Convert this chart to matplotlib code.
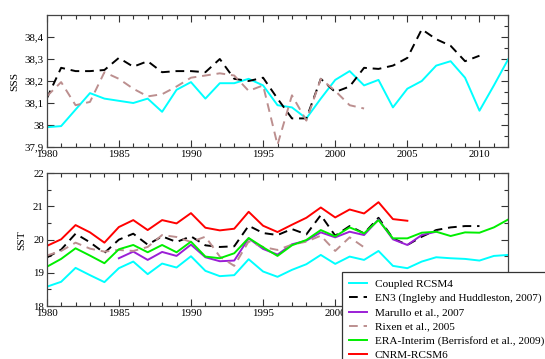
import numpy as np
import matplotlib
matplotlib.use('Agg')
import matplotlib.pyplot as plt
from matplotlib.ticker import MultipleLocator

plt.rcParams['font.family'] = ['Liberation Serif', 'DejaVu Serif']
plt.rcParams['font.size'] = 7.5

# SSS series
sss_rcsm4 = [37.99, 37.995, 38.07, 38.145, 38.12, 38.11, 38.10, 38.12, 38.06, 38.16,
             38.195, 38.12, 38.19, 38.19, 38.21, 38.18, 38.09, 38.08, 38.03, 38.12,
             38.205, 38.245, 38.18, 38.205, 38.08, 38.165, 38.20, 38.27, 38.29, 38.215,
             38.065, 38.18, 38.30]
sss_en3 = [38.12, 38.26, 38.245, 38.245, 38.25, 38.305, 38.265, 38.29, 38.24, 38.245,
           38.245, 38.24, 38.30, 38.21, 38.20, 38.215, 38.12, 38.03, 38.03, 38.21,
           38.15, 38.175, 38.26, 38.255, 38.27, 38.305, 38.435, 38.39, 38.36, 38.29,
           38.315]
sss_rixen = [38.13, 38.195, 38.09, 38.105, 38.24, 38.21, 38.165, 38.13, 38.14, 38.175,
             38.215, 38.225, 38.235, 38.225, 38.155, 38.18, 37.91, 38.135, 38.02, 38.21,
             38.155, 38.09, 38.075]

# SST series
sst_rcsm4 = [18.58, 18.73, 19.15, 18.93, 18.72, 19.14, 19.34, 18.96, 19.28, 19.16,
             19.50, 19.06, 18.90, 18.93, 19.41, 19.04, 18.88, 19.09, 19.26, 19.54,
             19.27, 19.49, 19.39, 19.66, 19.21, 19.14, 19.34, 19.47, 19.44, 19.42,
             19.37, 19.51, 19.54]
sst_en3 = [19.46, 19.70, 20.18, 19.92, 19.60, 20.00, 20.18, 19.85, 20.10, 19.93,
           20.10, 19.83, 19.78, 19.80, 20.42, 20.20, 20.14, 20.32, 20.16, 20.74,
           20.12, 20.41, 20.19, 20.66, 20.04, 19.84, 20.09, 20.29, 20.37, 20.41,
           20.41]
sst_marullo = [19.44, 19.64, 19.39, 19.63, 19.51, 19.85, 19.47, 19.35, 19.37, 20.04,
               19.72, 19.55, 19.86, 19.97, 20.22, 20.07, 20.24, 20.14, 20.61, 20.01,
               19.84, 20.14, 20.24]
sst_rixen = [19.52, 19.66, 19.91, 19.73, 19.64, 19.69, 19.66, 19.78, 20.14, 20.08,
             19.93, 20.09, 19.49, 19.21, 19.95, 19.78, 19.69, 19.85, 19.94, 20.12,
             19.66, 20.07, 19.77]
sst_era = [19.18, 19.42, 19.74, 19.52, 19.29, 19.71, 19.84, 19.62, 19.84, 19.62,
           19.94, 19.49, 19.44, 19.59, 20.05, 19.77, 19.51, 19.83, 19.99, 20.29,
           20.10, 20.37, 20.19, 20.59, 20.04, 20.04, 20.21, 20.24, 20.11, 20.22,
           20.21, 20.37, 20.61]
sst_cnrm = [19.81, 20.01, 20.44, 20.22, 19.91, 20.38, 20.59, 20.29, 20.59, 20.49,
            20.80, 20.36, 20.28, 20.33, 20.84, 20.42, 20.23, 20.45, 20.66, 20.97,
            20.67, 20.91, 20.79, 21.13, 20.62, 20.57]

x_ticks = [1980, 1985, 1990, 1995, 2000, 2005, 2010]
sss_ticks = [37.9, 38.0, 38.1, 38.2, 38.3, 38.4]
sss_labels = ['37,9', '38', '38,1', '38,2', '38,3', '38,4']
sst_ticks = [18, 19, 20, 21, 22]
sst_labels = ['18', '19', '20', '21', '22']

labels = ['Coupled RCSM4', 'EN3 (Ingleby and Huddleston, 2007)', 'Marullo et al., 2007',
          'Rixen et al., 2005', 'ERA-Interim (Berrisford et al., 2009)', 'CNRM-RCSM6']

c_cyan = '#00ffff'
c_black = '#000000'
c_purple = '#9b1fd6'
c_brown = '#bc8f8f'
c_green = '#00ee00'
c_red = '#ff0000'
lw = 1.4
dash = (4.5, 3)


def yrs(vals, start=1980):
    return np.arange(start, start + len(vals))


def style_axes(ax):
    ax.set_xlim(1980, 2012)
    ax.set_xticks(x_ticks)
    ax.xaxis.set_minor_locator(MultipleLocator(1))
    ax.tick_params(which='both', direction='in', top=True, right=True, pad=2,
                   labelsize=7.8, width=0.8, colors='#333333', labelcolor='black')
    ax.tick_params(which='major', length=5)
    ax.tick_params(which='minor', length=3)
    for s in ax.spines.values():
        s.set_linewidth(0.9)
        s.set_color('#444444')


fig = plt.figure(figsize=(5.45, 3.59), dpi=100)
ax1 = fig.add_axes([0.0857, 0.5905, 0.847, 0.3677])
ax2 = fig.add_axes([0.0857, 0.1476, 0.847, 0.3696])

# top: SSS
ax1.plot(yrs(sss_rcsm4), sss_rcsm4, color=c_cyan, lw=lw)
ax1.plot(yrs(sss_en3), sss_en3, color=c_black, lw=lw, dashes=dash)
ax1.plot(yrs(sss_rixen), sss_rixen, color=c_brown, lw=lw, dashes=dash)
ax1.set_ylim(37.9, 38.5)
ax1.set_yticks(sss_ticks)
ax1.set_yticklabels(sss_labels)
ax1.yaxis.set_minor_locator(MultipleLocator(0.05))
style_axes(ax1)
ax1.tick_params(which='minor', axis='y', left=False)
ax1.set_ylabel('SSS', fontsize=8.2, labelpad=4)

# bottom: SST
h = []
h += ax2.plot(yrs(sst_rcsm4), sst_rcsm4, color=c_cyan, lw=lw)
h += ax2.plot(yrs(sst_en3), sst_en3, color=c_black, lw=lw, dashes=dash)
h += ax2.plot(yrs(sst_marullo, 1985), sst_marullo, color=c_purple, lw=lw)
h += ax2.plot(yrs(sst_rixen), sst_rixen, color=c_brown, lw=lw, dashes=dash)
h += ax2.plot(yrs(sst_era), sst_era, color=c_green, lw=lw)
h += ax2.plot(yrs(sst_cnrm), sst_cnrm, color=c_red, lw=lw)
ax2.set_ylim(18, 22)
ax2.set_yticks(sst_ticks)
ax2.set_yticklabels(sst_labels)
ax2.yaxis.set_minor_locator(MultipleLocator(0.5))
style_axes(ax2)
ax2.set_ylabel('SST', fontsize=8.2, labelpad=5)

leg = fig.legend(h, labels, loc='upper left', bbox_to_anchor=(342 / 545, 1 - 272 / 359),
                 bbox_transform=fig.transFigure, borderaxespad=0, fontsize=8.1,
                 fancybox=False, framealpha=1, edgecolor='#333333',
                 handlelength=1.6, labelspacing=0.37, borderpad=0.65, handletextpad=0.65)
leg.get_frame().set_linewidth(0.9)

plt.savefig('out.png', dpi=100)
